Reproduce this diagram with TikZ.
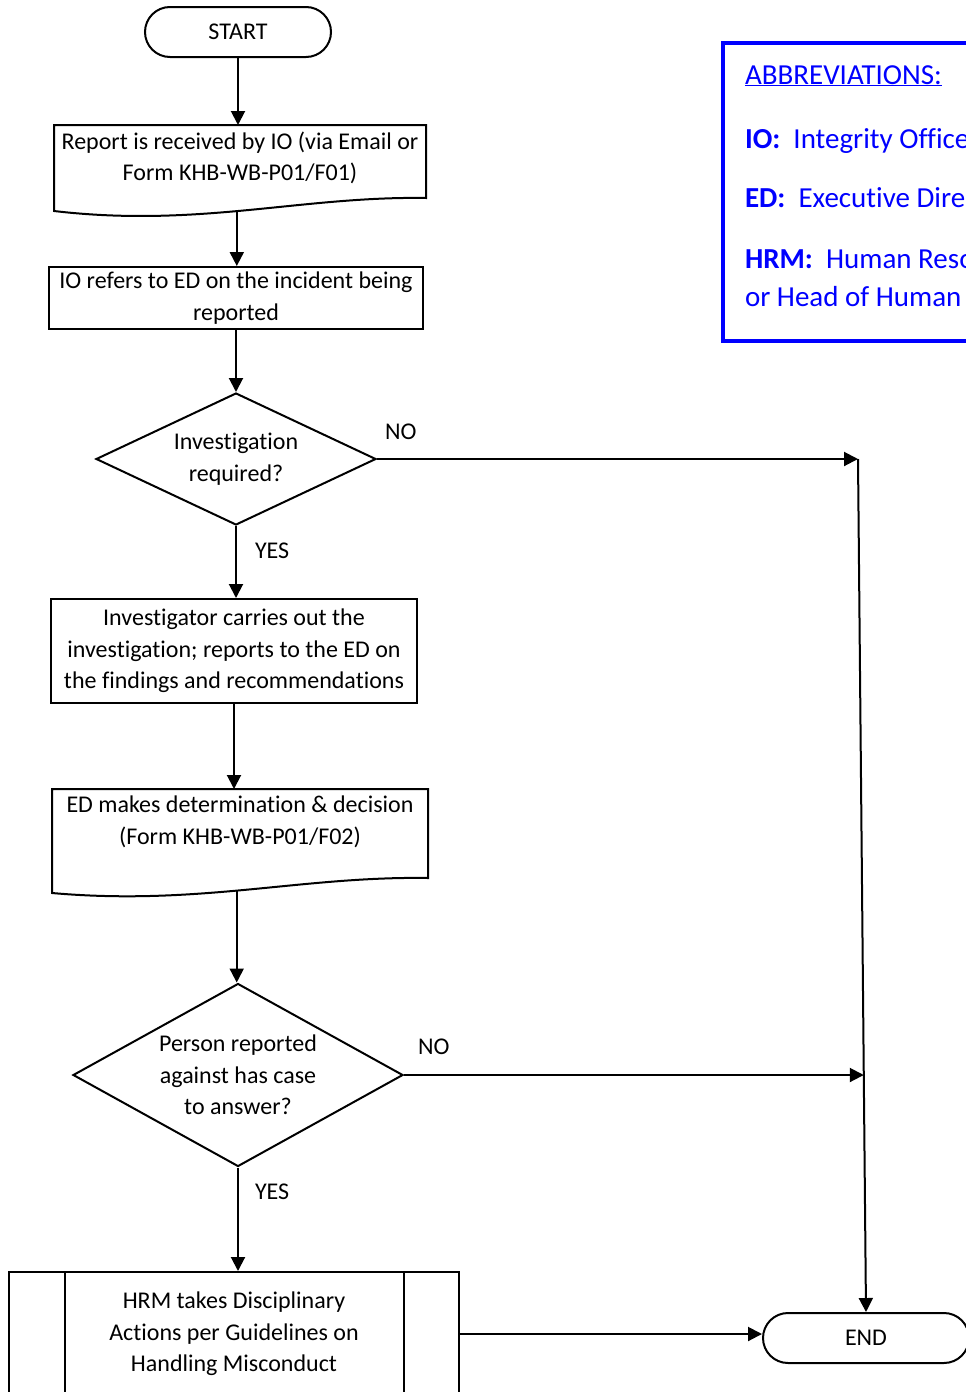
\documentclass[tikz,border=0pt]{standalone}
\usepackage{fontspec}
\setmainfont{Carlito}[Ligatures=NoCommon]
\usetikzlibrary{shapes.geometric,arrows.meta,calc}
\definecolor{abbrblue}{RGB}{0,0,255}

\begin{document}
\begin{tikzpicture}[x=1pt,y=-1pt,line width=2pt,
  >={Triangle[length=14pt,width=14pt]},
  font=\fontsize{24}{31.5}\selectfont,
  every node/.style={align=center},
  term/.style={draw,rectangle,rounded corners=25pt,minimum height=50pt},
  proc/.style={draw,rectangle,inner sep=0pt},
  docu/.style={rectangle,inner sep=0pt,anchor=north,minimum height=64pt},
  decision/.style={draw,diamond,inner sep=0pt},
  lbl/.style={inner sep=0pt,anchor=base west},
  abbr/.style={text=abbrblue,font=\fontsize{29}{38}\selectfont,inner sep=0pt,anchor=base west}]
\useasboundingbox (0,0) rectangle (966,1392);
\clip (0,0) rectangle (966,1392);
% flow column
\node[term,minimum width=186pt] (start) at (238,32) {START};
\node[docu,minimum width=370pt] (rep) at (240,125) {Report is received by IO (via Email or\\Form KHB-WB-P01/F01)};
\draw (rep.north west) -- (rep.north east) -- ($(rep.north east)+(0,73)$)
  .. controls ($(rep.north east)+(-125,71)$) and ($(rep.north west)+(145,103)$) ..
  coordinate[pos=0.53] (repw) ($(rep.north west)+(0,86)$) -- cycle;
\node[proc,minimum width=374pt,minimum height=62pt] (refer) at (236,298) {IO refers to ED on the incident being\\reported};
\node[decision,aspect=2.1,minimum width=280pt,minimum height=132pt] (invq) at (236,459) {Investigation\\required?};
\node[proc,minimum width=366pt,minimum height=104pt] (invest) at (234,651) {Investigator carries out the\\investigation; reports to the ED on\\the findings and recommendations};
\node[docu,minimum width=374pt] (decide) at (240,789) {ED makes determination \& decision\\(Form KHB-WB-P01/F02)};
\draw (decide.north west) -- (decide.north east) -- ($(decide.north east)+(0,89)$)
  .. controls ($(decide.north east)+(-127,87)$) and ($(decide.north west)+(147,117)$) ..
  coordinate[pos=0.53] (decw) ($(decide.north west)+(0,104)$) -- cycle;
\node[decision,aspect=1.8,minimum width=330pt,minimum height=183pt] (caseq) at (238,1075) {Person reported\\against has case\\to answer?};
\node[proc,anchor=north,minimum width=450pt,minimum height=124pt] (hrm) at (234,1271) {HRM takes Disciplinary\\Actions per Guidelines on\\Handling Misconduct};
\draw ($(hrm.north west)+(57,0)$) -- ($(hrm.south west)+(57,0)$);
\draw ($(hrm.north east)+(-56,0)$) -- ($(hrm.south east)+(-56,0)$);
\node[term,minimum width=206pt] (stop) at (866,1338) {END};
% branch labels
\node[lbl] (no1) at ($(invq.east)+(7,-20)$) {NO};
\node[lbl] (yes1) at ($(invq.south)+(18,32)$) {YES};
\node[lbl] (no2) at ($(caseq.east)+(13,-21)$) {NO};
\node[lbl] (yes2) at ($(caseq.south)+(16,32)$) {YES};
% connectors
\coordinate (j1) at (858,459);
\coordinate (j2) at ($(j1)!0.721!(stop.north)$);
\draw[->] (start) -- (start |- rep.north);
\draw[->] (repw) -- (repw |- refer.north);
\draw[->] (refer) -- (refer |- invq.north);
\draw[->] (invq) -- (invq |- invest.north);
\draw[->] (invq) -- (j1);
\draw[->] (j1) -- (stop.north);
\draw[->] (invest) -- (invest |- decide.north);
\draw[->] (decw) -- (decw |- caseq.north);
\draw[->] (caseq) -- (caseq -| j2);
\draw[->] (caseq) -- (caseq |- hrm.north);
\draw[->] (hrm.east) -- (hrm.east -| stop.west);
% abbreviations
\draw[abbrblue,line width=3.5pt] (723,43) rectangle (1010,341);
\node[abbr] (abtitle) at (744,84) {\underline{ABBREVIATIONS:}};
\node[abbr] (abio) at (744,148) {\textbf{IO:}\ \ Integrity Officer};
\node[abbr] (abed) at (744,207) {\textbf{ED:}\ \ Executive Director};
\node[abbr] (abhrm) at (744,268) {\textbf{HRM:}\ \ Human Resource Manager};
\node[abbr] (abhrmb) at (744,306) {or Head of Human Resource};
\end{tikzpicture}
\end{document}
